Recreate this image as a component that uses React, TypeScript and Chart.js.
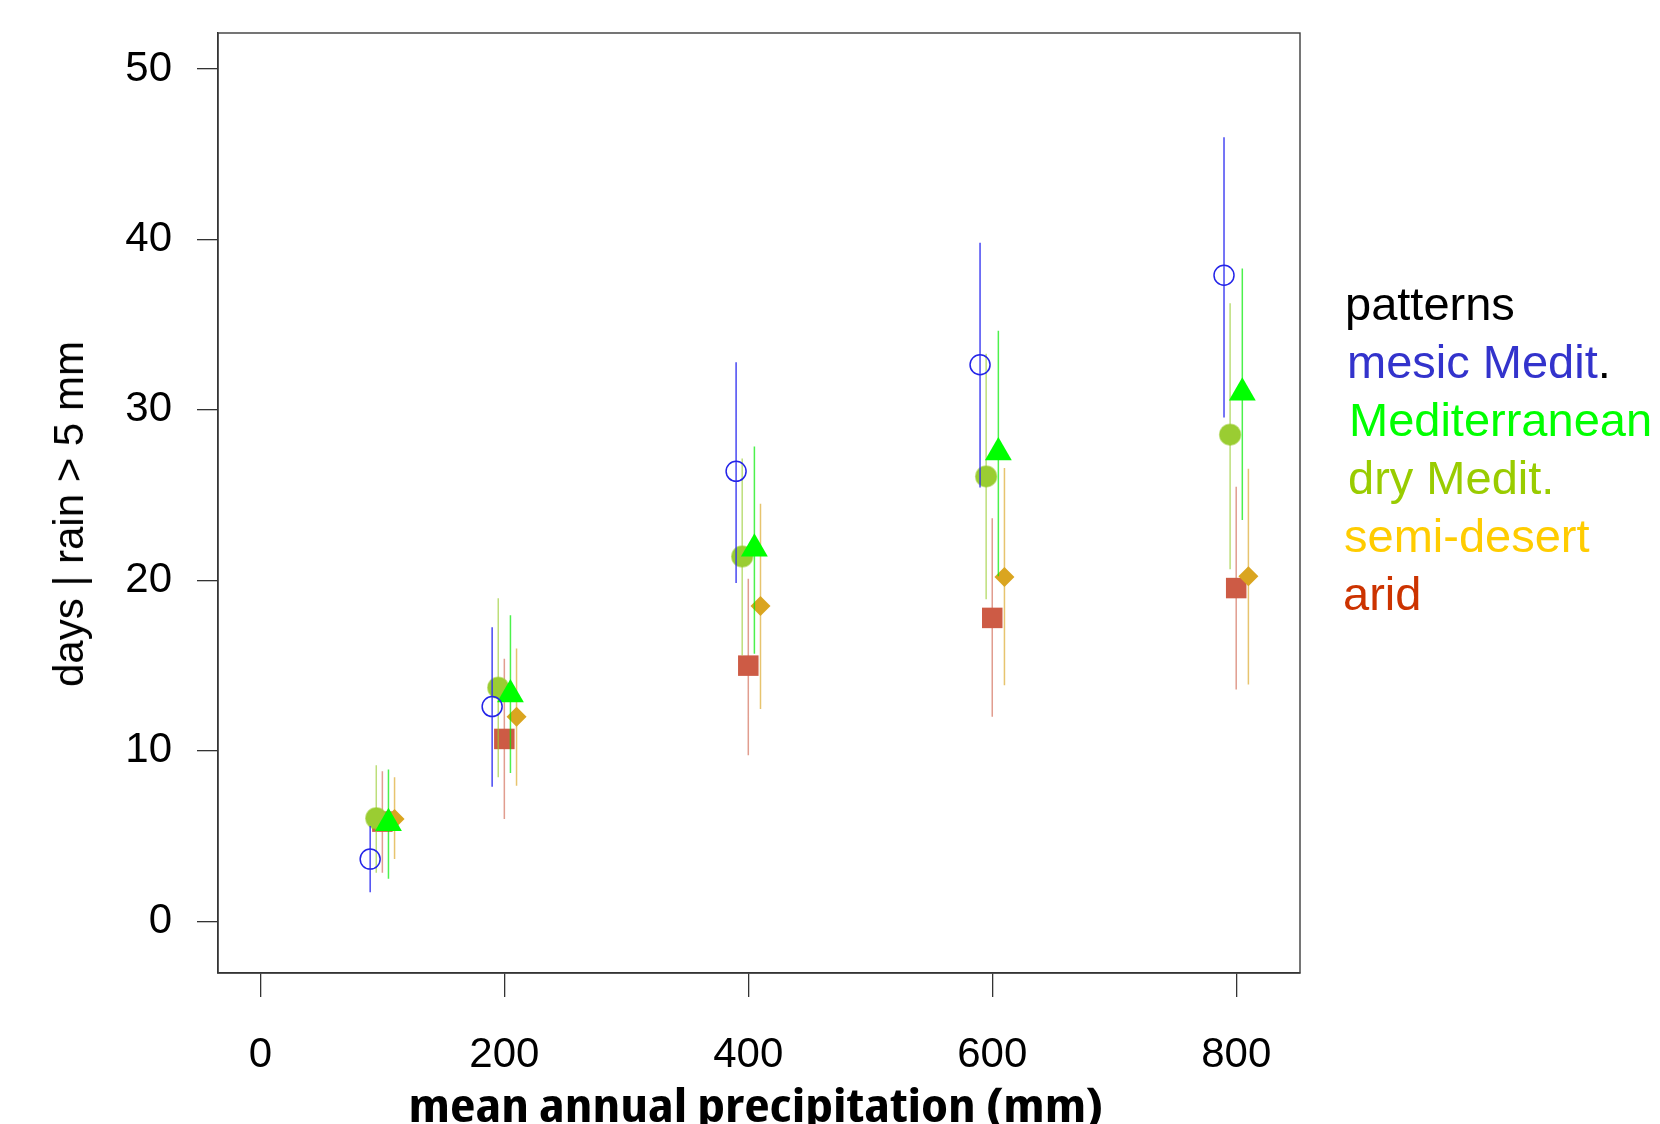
import React, { useEffect, useLayoutEffect, useRef, useState } from "react";
import { Chart, registerables } from "chart.js";

Chart.register(...registerables);

// ---- data ----
const precipitation = [100, 200, 400, 600, 800];
const xTicks = [0, 200, 400, 600, 800];
const yTicks = [0, 10, 20, 30, 40, 50];

const mesicMean = [3.65, 12.6, 26.4, 32.65, 37.9];
const mesicLow = [1.7, 7.9, 19.85, 25.45, 29.55];
const mesicHigh = [5.6, 17.25, 32.8, 39.8, 46.0];

const mediterraneanMean = [5.75, 13.3, 21.85, 27.5, 31.0];
const mediterraneanLow = [2.5, 8.7, 15.7, 20.25, 23.55];
const mediterraneanHigh = [8.9, 17.95, 27.85, 34.65, 38.3];

const dryMean = [6.05, 13.7, 21.4, 26.1, 28.55];
const dryLow = [2.85, 8.45, 15.6, 18.9, 20.65];
const dryHigh = [9.15, 18.95, 27.15, 33.3, 36.25];

const semiDesertMean = [6.0, 12.0, 18.5, 20.2, 20.25];
const semiDesertLow = [3.65, 7.95, 12.45, 13.85, 13.9];
const semiDesertHigh = [8.45, 16.0, 24.5, 26.6, 26.55];

const aridMean = [5.85, 10.7, 15.0, 17.8, 19.55];
const aridLow = [2.85, 6.0, 9.75, 12.0, 13.6];
const aridHigh = [8.8, 15.4, 20.1, 23.65, 25.5];

// horizontal dodge of each pattern (mm)
const mesicOffset = -10;
const dryOffset = -5;
const aridOffset = 0;
const mediterraneanOffset = 5;
const semiDesertOffset = 10;

const xTitle = "mean annual precipitation (mm)";
const yTitle = "days | rain > 5 mm";
const legendTitle = "patterns";
const legendLabels = ["mesic Medit", "Mediterranean", "dry Medit.", "semi-desert", "arid"];

// ---- styles ----
type Series = {
  name: string;
  offset: number;
  mean: number[];
  low: number[];
  high: number[];
  pointStyle: string;
  radius: number;
  fill: string;
  border: string;
  borderWidth: number;
  bar: string;
};

const seriesList: Series[] = [
  { name: "arid", offset: aridOffset, mean: aridMean, low: aridLow, high: aridHigh, pointStyle: "rect", radius: 14.5, fill: "#CD5B45", border: "#CD5B45", borderWidth: 0, bar: "rgba(205,91,69,0.6)" },
  { name: "semi-desert", offset: semiDesertOffset, mean: semiDesertMean, low: semiDesertLow, high: semiDesertHigh, pointStyle: "rectRot", radius: 10, fill: "#DAA520", border: "#DAA520", borderWidth: 0, bar: "rgba(218,165,32,0.65)" },
  { name: "dry Medit.", offset: dryOffset, mean: dryMean, low: dryLow, high: dryHigh, pointStyle: "circle", radius: 10.5, fill: "#9ACD32", border: "rgba(154,205,50,0.55)", borderWidth: 1.5, bar: "rgba(154,205,50,0.65)" },
  { name: "Mediterranean", offset: mediterraneanOffset, mean: mediterraneanMean, low: mediterraneanLow, high: mediterraneanHigh, pointStyle: "triangle", radius: 15.5, fill: "#00FF00", border: "#00FF00", borderWidth: 0, bar: "rgba(0,235,0,0.7)" },
  { name: "mesic Medit", offset: mesicOffset, mean: mesicMean, low: mesicLow, high: mesicHigh, pointStyle: "circle", radius: 10, fill: "rgba(0,0,0,0)", border: "#2424E8", borderWidth: 1.5, bar: "rgba(40,40,240,0.85)" },
];

const legendColors = ["#3333CC", "#00FF00", "#99CC00", "#FFCC00", "#CC3300"];
const legendLefts = [1347, 1349, 1348, 1344, 1343];
const legendTitleLeft = 1345;
const legendFirstBaseline = 320;
const legendStep = 58;

const boxPlugin = {
  id: "plotBox",
  beforeDatasetsDraw(chart: any) {
    const { ctx, chartArea: a } = chart;
    ctx.save();
    ctx.strokeStyle = "#3c3c3c";
    ctx.lineWidth = 1.4;
    ctx.strokeRect(a.left, a.top, a.right - a.left, a.bottom - a.top);
    ctx.restore();
  },
};

export default function App() {
  const canvasRef = useRef<HTMLCanvasElement | null>(null);
  const xTitleRef = useRef<HTMLSpanElement | null>(null);
  const [xScale, setXScale] = useState(1);

  useLayoutEffect(() => {
    const el = xTitleRef.current;
    if (!el) return;
    const w = el.offsetWidth;
    if (w > 0) setXScale(695 / w);
  }, []);

  useEffect(() => {
    document.body.style.margin = "0";
    const canvas = canvasRef.current;
    if (!canvas) return;
    const datasets: any[] = [];
    let order = 2 * seriesList.length;
    seriesList.forEach((s) => {
      const barData: any[] = [];
      precipitation.forEach((p, i) => {
        barData.push({ x: p + s.offset, y: s.low[i] });
        barData.push({ x: p + s.offset, y: s.high[i] });
        barData.push({ x: p + s.offset, y: null });
      });
      datasets.push({
        label: s.name + " range",
        data: barData,
        showLine: true,
        spanGaps: false,
        pointRadius: 0,
        borderColor: s.bar,
        borderWidth: 1.5,
        order: order--,
      });
      datasets.push({
        label: s.name,
        data: precipitation.map((p, i) => ({ x: p + s.offset, y: s.mean[i] })),
        showLine: false,
        pointStyle: s.pointStyle,
        pointRadius: s.radius,
        pointBackgroundColor: s.fill,
        pointBorderColor: s.border,
        pointBorderWidth: s.borderWidth,
        order: order--,
      });
    });

    const tickFont = { family: "'Liberation Sans', Arial, sans-serif", size: 42 };

    const chart = new Chart(canvas, {
      type: "scatter",
      data: { datasets },
      plugins: [boxPlugin],
      options: {
        responsive: false,
        animation: false,
        events: [],
        layout: { padding: { top: 33, right: 360, bottom: 0, left: 0 } },
        plugins: { legend: { display: false }, tooltip: { enabled: false } },
        scales: {
          x: {
            type: "linear",
            min: -34.75,
            max: 852.3,
            afterBuildTicks: (scale: any) => {
              scale.ticks = xTicks.map((value) => ({ value }));
            },
            afterFit: (scale: any) => {
              scale.height = 151;
              scale.paddingLeft = 0;
              scale.paddingRight = 0;
            },
            grid: { display: true, drawOnChartArea: false, drawTicks: true, tickLength: 24, color: "#333", lineWidth: 1.3 },
            border: { display: true, color: "#222", width: 1.6 },
            ticks: { color: "#000", font: tickFont, padding: 33, autoSkip: false, maxRotation: 0 },
            title: { display: false },
          },
          y: {
            type: "linear",
            min: -3.03,
            max: 52.11,
            afterBuildTicks: (scale: any) => {
              scale.ticks = yTicks.map((value) => ({ value }));
            },
            afterFit: (scale: any) => {
              scale.width = 218;
              scale.paddingTop = 0;
              scale.paddingBottom = 0;
            },
            grid: { display: true, drawOnChartArea: false, drawTicks: true, tickLength: 21, color: "#333", lineWidth: 1.3 },
            border: { display: true, color: "#222", width: 1.4 },
            ticks: { color: "#000", font: tickFont, padding: 25 },
            title: { display: false },
          },
        },
      },
    });
    return () => chart.destroy();
  }, []);

  const lineFont = "'Liberation Sans', Arial, sans-serif";
  const topFor = (k: number) => legendFirstBaseline + k * legendStep - 45.3;

  return (
    <div style={{ position: "absolute", left: 0, top: 0, width: 1660, height: 1124, background: "#fff", overflow: "hidden" }}>
      <canvas ref={canvasRef} width={1660} height={1124} style={{ position: "absolute", left: 0, top: 0, width: 1660, height: 1124 }} />

      {/* y axis title */}
      <div style={{ position: "absolute", left: 69.4, top: 514, width: 0, height: 0 }}>
        <div
          style={{
            position: "absolute",
            left: 0,
            top: 0,
            transform: "translate(-50%, -50%) rotate(-90deg)",
            fontFamily: lineFont,
            fontSize: 42,
            lineHeight: "42px",
            color: "#000",
            whiteSpace: "nowrap",
          }}
        >
          {yTitle}
        </div>
      </div>

      {/* x axis title */}
      <div style={{ position: "absolute", left: 755.5, top: 1081, width: 0, height: 0 }}>
        <span
          ref={xTitleRef}
          style={{
            position: "absolute",
            left: 0,
            top: 0,
            display: "inline-block",
            transform: `translateX(-50%) scaleX(${xScale})`,
            transformOrigin: "center top",
            fontFamily: "'Open Sans', 'DejaVu Sans Condensed', sans-serif",
            fontStretch: "75%",
            fontWeight: 700,
            fontSize: 46,
            lineHeight: "46px",
            color: "#000",
            whiteSpace: "nowrap",
          }}
        >
          {xTitle}
        </span>
      </div>

      {/* legend */}
      <div style={{ position: "absolute", left: legendTitleLeft, top: topFor(0), fontFamily: lineFont, fontSize: 47, lineHeight: "58px", color: "#000", whiteSpace: "nowrap" }}>
        {legendTitle}
      </div>
      {legendLabels.map((label, i) => (
        <div
          key={label}
          style={{ position: "absolute", left: legendLefts[i], top: topFor(i + 1), fontFamily: lineFont, fontSize: 47, lineHeight: "58px", color: legendColors[i], whiteSpace: "nowrap" }}
        >
          {label}
          {i === 0 ? <span style={{ color: "#000" }}>.</span> : null}
        </div>
      ))}
    </div>
  );
}
